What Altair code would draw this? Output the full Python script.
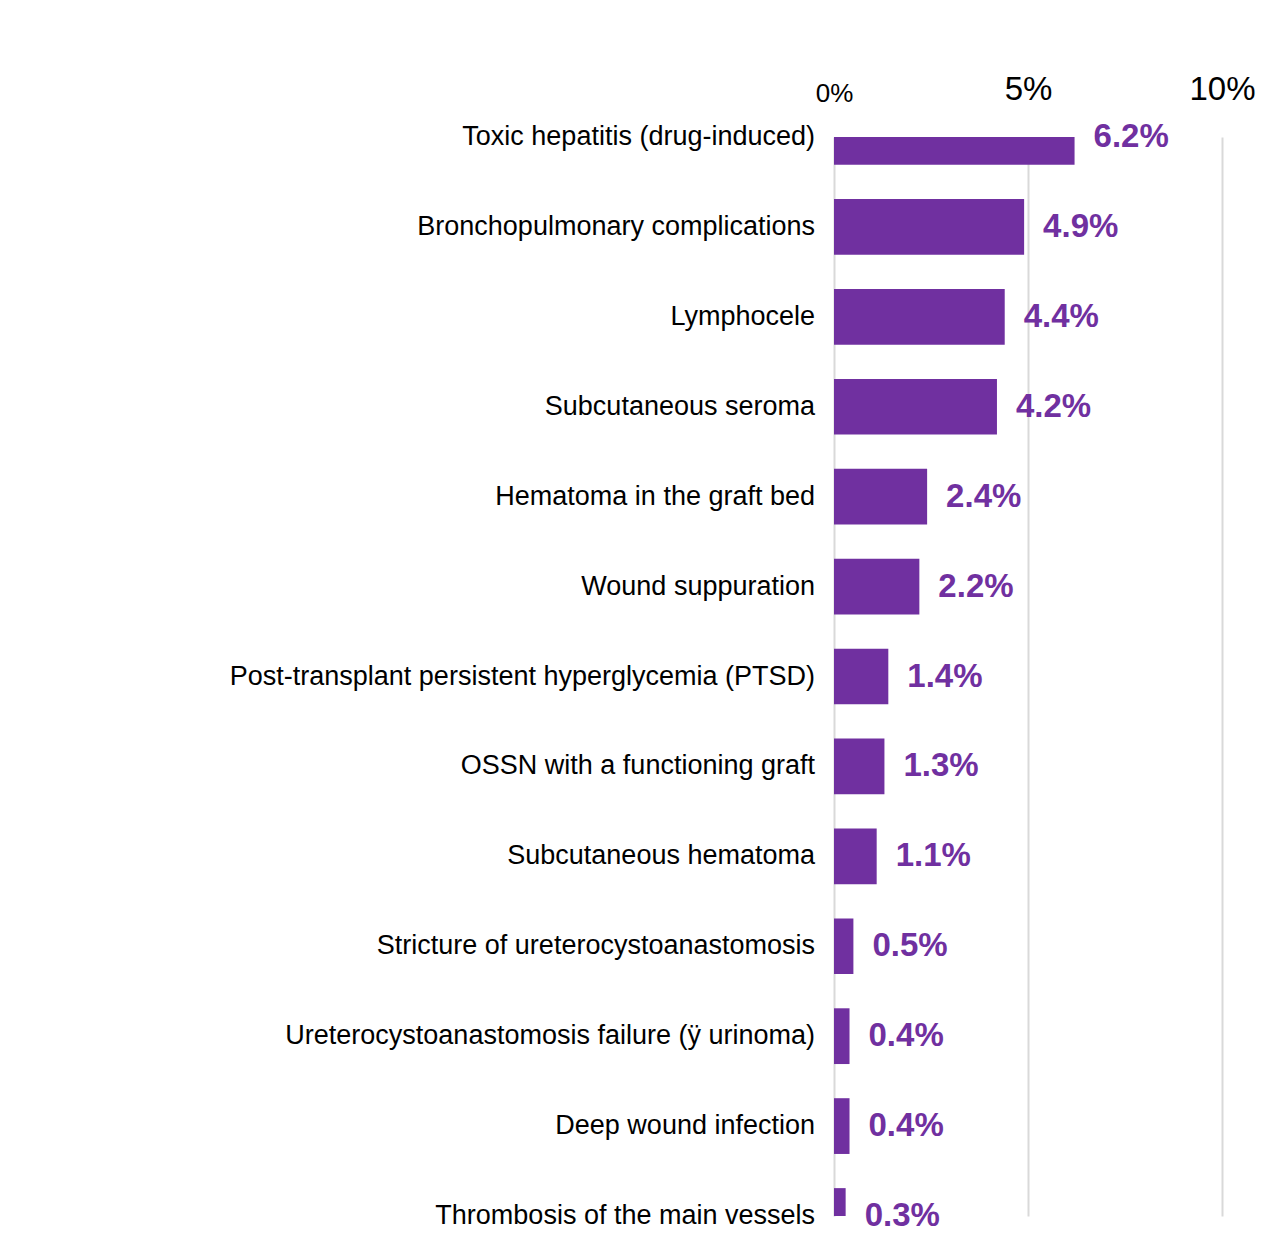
import altair as alt
import pandas as pd

categories = [
    "Toxic hepatitis (drug-induced)",
    "Bronchopulmonary complications",
    "Lymphocele",
    "Subcutaneous seroma",
    "Hematoma in the graft bed",
    "Wound suppuration",
    "Post-transplant persistent hyperglycemia (PTSD)",
    "OSSN with a functioning graft",
    "Subcutaneous hematoma",
    "Stricture of ureterocystoanastomosis",
    "Ureterocystoanastomosis failure (ÿ urinoma)",
    "Deep wound infection",
    "Thrombosis of the main vessels",
]
values = [6.2, 4.9, 4.4, 4.2, 2.4, 2.2, 1.4, 1.3, 1.1, 0.5, 0.4, 0.4, 0.3]
x_ticks = [0, 5, 10]

df = pd.DataFrame({
    "category": categories,
    "value": values,
    "idx": list(range(len(categories))),
})

PURPLE = "#7030A0"
FONT = "Liberation Sans"
HALF = 0.31

xscale = alt.Scale(domain=[0, 10], nice=False, zero=True)
yscale = alt.Scale(domain=[0, len(categories) - 1], reverse=True, nice=False, zero=False)

base = alt.Chart(df)

bars = base.transform_calculate(
    y0="datum.idx - %f" % HALF,
    y1="datum.idx + %f" % HALF,
    x0="0",
).mark_rect(color=PURPLE, clip=True).encode(
    x=alt.X("x0:Q", scale=xscale,
            axis=alt.Axis(orient="top", values=x_ticks, labelExpr="datum.value + '%'",
                          domain=False, ticks=False, grid=True, gridColor="#d9d9d9",
                          gridWidth=2, labelPadding=31, labelColor="#000000",
                          labelFont=FONT, labelFlush=False, labelOverlap=False,
                          labelFontSize=alt.ExprRef(expr="datum.value == 0 ? 26 : 33"),
                          title=None)),
    x2="value:Q",
    y=alt.Y("y0:Q", scale=yscale, axis=None),
    y2="y1:Q",
)

values_text = base.transform_calculate(
    lbl="format(datum.value, '.1f') + '%'"
).mark_text(align="left", baseline="middle", dx=19, font=FONT, fontSize=33,
            fontWeight="bold", color=PURPLE).encode(
    x=alt.X("value:Q", scale=xscale),
    y=alt.Y("idx:Q", scale=yscale),
    text="lbl:N",
)

cat_text = base.mark_text(align="right", baseline="middle", font=FONT, fontSize=27,
                          color="#000000").encode(
    x=alt.value(-19),
    y=alt.Y("idx:Q", scale=yscale),
    text="category:N",
)

chart = alt.layer(bars, values_text, cat_text).properties(
    width=388,
    height=1079,
    autosize=alt.AutoSizeParams(type="none"),
    padding={"left": 826, "top": 129, "right": 34, "bottom": 29},
).configure(background="white", view=alt.ViewConfig(stroke=None))

chart.save("out.html", embed_options={"renderer": "svg", "actions": False})
